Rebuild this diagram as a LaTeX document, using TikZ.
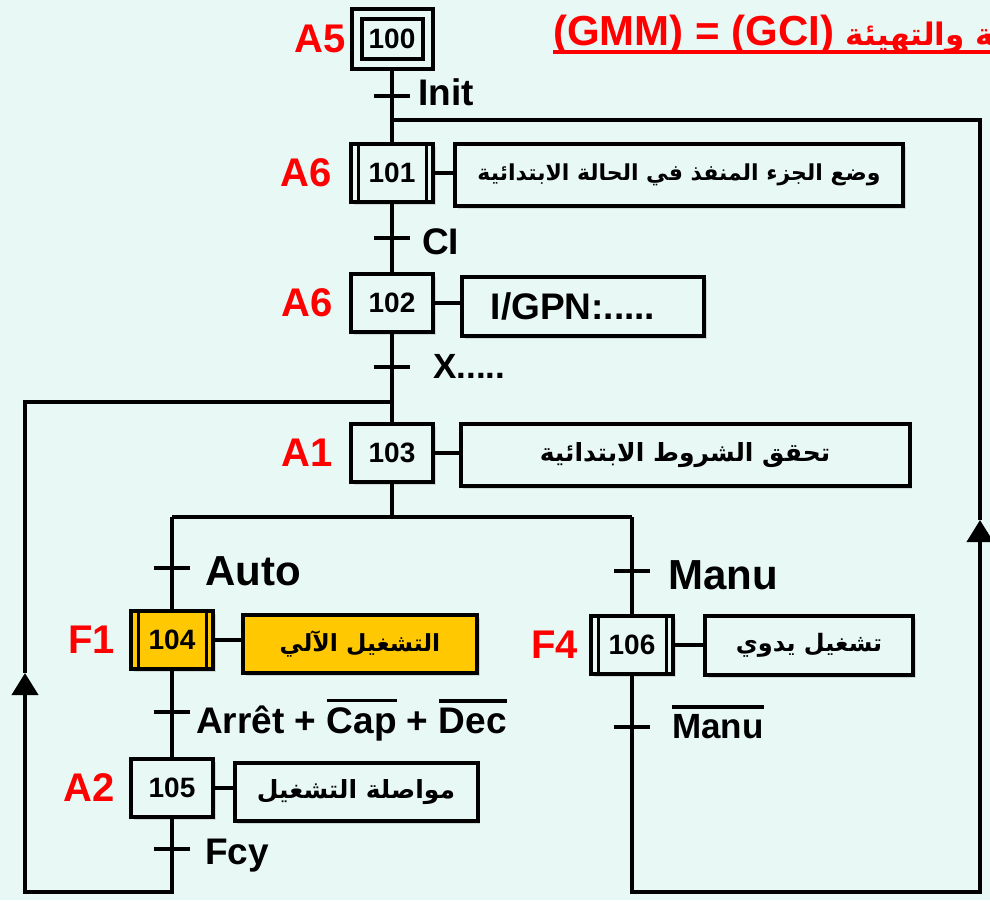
\documentclass[tikz,border=0pt]{standalone}
\usepackage{fontspec}
\setmainfont{Liberation Sans}
\newfontfamily\arabicfont[Script=Arabic]{DejaVu Sans}
\TeXXeTstate=1
\usetikzlibrary{arrows.meta,positioning,shadows}

\definecolor{bgmint}{RGB}{232,248,245}
\definecolor{gold}{RGB}{255,200,0}
\newcommand\ovl[1]{\vbox{\hrule height 3.5pt\kern 5pt\hbox{#1}}}
\newcommand\artext[1]{{\arabicfont\bfseries\beginR #1\endR}}
\newcommand\fsz[1]{\fontsize{#1}{#1}\selectfont}

\tikzset{
  link/.style={line width=4pt},
  boxshadow/.style={drop shadow={shadow xshift=2.5pt,shadow yshift=-3pt,opacity=.25}},
  stepbox/.style={draw,line width=4pt,fill=bgmint,boxshadow,minimum width=82pt,minimum height=58pt,inner sep=0pt,font=\bfseries\fsz{28}},
  initstep/.style={stepbox,double=bgmint,double distance=6pt,minimum width=71pt,minimum height=50pt},
  actbox/.style={draw,line width=4pt,fill=bgmint,boxshadow,inner sep=0pt,font=\fsz{25}},
  tag/.style={red,inner sep=0pt,font=\bfseries\fsz{40}},
  cond/.style={anchor=base west,inner sep=0pt,font=\bfseries\fsz{37}},
  bigcond/.style={cond,font=\bfseries\fsz{42}},
}

\begin{document}
\begin{tikzpicture}[x=1pt,y=-1pt]
  \fill[bgmint] (0,0) rectangle (990,900);
  \useasboundingbox (0,0) rectangle (990,900);

  % title
  \node[red,anchor=base west,inner sep=0pt,font=\bfseries\fsz{42}] (title) at (553,45)
    {(GMM) = (GCI) {\fsz{31}\artext{ـة والتهيئة}}};
  \draw[red,line width=4pt] ([yshift=-7pt]title.base west) -- ([yshift=-7pt]title.base east);

  % main column
  \node[initstep] (s100) at (392,39) {100};
  \node[stepbox] (s101) at (392,173) {101};
  \node[stepbox] (s102) at (392,303) {102};
  \node[stepbox] (s103) at (392,453) {103};
  % left and right branches
  \node[stepbox,fill=gold] (s104) at (172,640) {104};
  \node[stepbox] (s105) at (172,788) {105};
  \node[stepbox] (s106) at (632,645) {106};

  \node[tag,left=9pt of s100] {A5};
  \node[tag,left=17pt of s101] {A6};
  \node[tag,left=16pt of s102] {A6};
  \node[tag,left=16pt of s103] {A1};
  \node[tag,left=14pt of s104] {F1};
  \node[tag,left=14pt of s105] {A2};
  \node[tag,left=11pt of s106] {F4};

  % actions
  \node[actbox,minimum width=448pt,minimum height=62pt,font=\fsz{22}] (a101) at (679,175)
    {\artext{وضع الجزء المنفذ في الحالة الابتدائية}};
  \node[actbox,minimum width=242pt,minimum height=59pt,font=\bfseries\fsz{37}] (a102) at (583,306)
    {I/GPN:.....\rule{20pt}{0pt}};
  \node[actbox,minimum width=449pt,minimum height=62pt] (a103) at (685,455)
    {\artext{تحقق الشروط الابتدائية}};
  \node[actbox,fill=gold,minimum width=234pt,minimum height=58pt,font=\fsz{23.5}] (a104) at (360,644)
    {\artext{التشغيل الآلي}};
  \node[actbox,minimum width=243pt,minimum height=58pt] (a105) at (356,792)
    {\artext{مواصلة التشغيل}};
  \node[actbox,minimum width=208pt,minimum height=59pt,font=\fsz{24}] (a106) at (809,645)
    {\artext{تشغيل يدوي}};

  \foreach \n in {101,...,106}
    \draw[link] (s\n.east) -- (s\n.east -| a\n.west);

  % macro step bars
  \foreach \s in {s101,s104,s106} {
    \draw[line width=3pt] ([xshift=9pt]\s.north west) -- ([xshift=9pt]\s.south west);
    \draw[line width=3pt] ([xshift=-9pt]\s.north east) -- ([xshift=-9pt]\s.south east);
  }

  % transitions and junctions
  \coordinate (t0) at (392,96);
  \coordinate (j0) at (392,120);
  \coordinate (t1) at (392,238);
  \coordinate (t2) at (392,367);
  \coordinate (j1) at (392,402);
  \coordinate (dv) at (392,517);
  \coordinate (dL) at (172,517);
  \coordinate (dR) at (632,517);
  \coordinate (tA) at (172,568);
  \coordinate (tB) at (172,712);
  \coordinate (tC) at (172,849);
  \coordinate (tM) at (632,571);
  \coordinate (tN) at (632,727);
  \coordinate (bL) at (172,892);
  \coordinate (cL) at (25,892);
  \coordinate (arrL) at (25,673);
  \coordinate (cL2) at (25,402);
  \coordinate (bR) at (632,892);
  \coordinate (cR) at (980,892);
  \coordinate (arrR) at (980,520);
  \coordinate (cR2) at (980,120);

  \draw[link,shorten <=5pt] (s100) -- (s101);
  \draw[link] (s101) -- (s102);
  \draw[link] (s102) -- (s103);
  \draw[link] (s103) -- (dv);
  \draw[link] (dL) -- (dR);
  \draw[link] (dL) -- (s104);
  \draw[link] (s104) -- (s105);
  \draw[link] (dR) -- (s106);
  \draw[link,-{Triangle[length=22pt,width=26pt]}] (s105) -- (bL) -- (cL) -- (arrL);
  \draw[link] (arrL) -- (cL2) -- (j1);
  \draw[link,-{Triangle[length=22pt,width=26pt]}] (s106) -- (bR) -- (cR) -- (arrR);
  \draw[link] (arrR) -- (cR2) -- (j0);

  \foreach \t in {t0,t1,t2,tA,tB,tC,tM,tN}
    \draw[link] ([xshift=-18pt]\t) -- ([xshift=18pt]\t);

  \node[cond] (cInit) at ([xshift=26pt,yshift=-9pt]t0) {Init};
  \node[cond] (cCI) at ([xshift=30pt,yshift=-16pt]t1) {CI};
  \node[cond,font=\bfseries\fsz{35}] (cX) at ([xshift=41pt,yshift=-11pt]t2) {X.....};
  \node[bigcond] (cAuto) at ([xshift=33pt,yshift=-17pt]tA) {Auto};
  \node[cond,font=\bfseries\fsz{37}] (cArret) at ([xshift=24pt,yshift=-21pt]tB)
    {Arrêt + \ovl{Cap} + \ovl{Dec}};
  \node[cond] (cFcy) at ([xshift=33pt,yshift=-15pt]tC) {Fcy};
  \node[bigcond] (cManu) at ([xshift=36pt,yshift=-18pt]tM) {Manu};
  \node[cond,font=\bfseries\fsz{35}] (cNManu) at ([xshift=40pt,yshift=-11pt]tN) {\ovl{Manu}};
\end{tikzpicture}
\end{document}
